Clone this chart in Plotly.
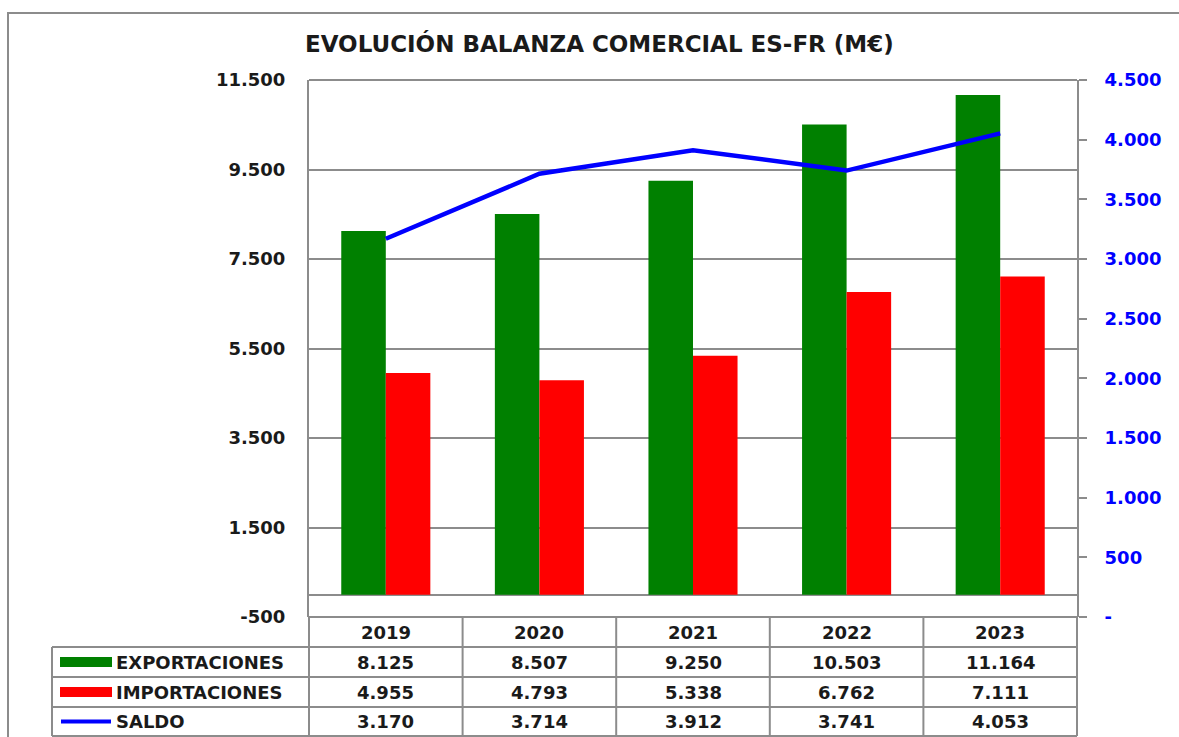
import plotly.graph_objects as go

years = ["2019", "2020", "2021", "2022", "2023"]
exportaciones = [8125, 8507, 9250, 10503, 11164]
importaciones = [4955, 4793, 5338, 6762, 7111]
saldo = [3170, 3714, 3912, 3741, 4053]
series_names = ["EXPORTACIONES", "IMPORTACIONES", "SALDO"]
left_ticks = [-500, 1500, 3500, 5500, 7500, 9500, 11500]
right_ticks = [0, 500, 1000, 1500, 2000, 2500, 3000, 3500, 4000, 4500]
title = "EVOLUCIÓN BALANZA COMERCIAL ES-FR (M€)"

W, H = 1179, 737
GREEN, RED, BLUE, GRAY = "#008000", "#FF0000", "#0000FF", "#8c8c8c"
FONT = "DejaVu Sans"
TXT = "#1a1a1a"
FS = 18


def fmt(v):
    return "-" if v == 0 else f"{v:,}".replace(",", ".")


def px(x):
    return x / W


def py(y):
    return 1 - y / H


X0, X1 = 309, 1077
Y_TOP, Y_BOT = 80, 617
ROWS = [617, 647, 677, 707, 736]
LEG_X = 52

xs = list(range(len(years)))

fig = go.Figure()
fig.add_trace(go.Bar(x=xs, y=exportaciones, name=series_names[0], marker_color=GREEN,
                     marker_line_width=0))
fig.add_trace(go.Bar(x=xs, y=importaciones, name=series_names[1], marker_color=RED,
                     marker_line_width=0))
fig.add_trace(go.Scatter(x=xs, y=saldo, name=series_names[2], mode="lines",
                         line=dict(color=BLUE, width=4.5), yaxis="y2"))

bold = dict(family=FONT, size=FS, color=TXT)

fig.update_layout(
    width=W, height=H, autosize=False,
    margin=dict(l=0, r=0, t=0, b=0, pad=0, autoexpand=False),
    paper_bgcolor="white", plot_bgcolor="white",
    showlegend=False,
    barmode="group", bargap=0.42, bargroupgap=0,
    xaxis=dict(domain=[px(X0), px(X1)], range=[-0.5, len(years) - 0.5],
               showticklabels=False, showgrid=False, zeroline=False, showline=False,
               fixedrange=True),
    yaxis=dict(domain=[py(Y_BOT), py(Y_TOP)], range=[-500, 11500],
               tickvals=left_ticks, ticktext=[fmt(v) for v in left_ticks],
               tickfont=dict(family=FONT, size=FS, color=TXT, weight="bold"),
               showgrid=True, gridcolor=GRAY, gridwidth=2,
               zeroline=True, zerolinecolor=GRAY, zerolinewidth=2,
               showline=True, linecolor=GRAY, linewidth=2,
               ticks="", ticklabelstandoff=18),
    yaxis2=dict(domain=[py(Y_BOT), py(Y_TOP)], overlaying="y", side="right",
                anchor="x", range=[0, 4500], tickvals=right_ticks,
                ticktext=[fmt(v) for v in right_ticks],
                tickfont=dict(family=FONT, size=FS, color=BLUE, weight="bold"),
                showgrid=False, zeroline=False,
                showline=True, linecolor=GRAY, linewidth=2,
                ticks="outside", ticklen=8, tickcolor=GRAY, tickwidth=2,
                ticklabelstandoff=14),
)

shapes = []
# outer chart border
shapes.append(dict(type="rect", xref="paper", yref="paper",
                   x0=px(8), x1=1.01, y0=-0.01, y1=py(13),
                   line=dict(color=GRAY, width=2), fillcolor="rgba(0,0,0,0)", layer="below"))
# top plot edge line
shapes.append(dict(type="line", xref="paper", yref="paper", x0=px(X0), x1=px(X1),
                   y0=py(Y_TOP), y1=py(Y_TOP), line=dict(color=GRAY, width=2)))
# table horizontal lines
for i, yy in enumerate(ROWS):
    xs0 = X0 if i == 0 else LEG_X
    shapes.append(dict(type="line", xref="paper", yref="paper", x0=px(xs0), x1=px(X1),
                       y0=py(yy), y1=py(yy), line=dict(color=GRAY, width=2)))
# table vertical lines
col_w = (X1 - X0) / len(years)
for j in range(len(years) + 1):
    xx = X0 + j * col_w
    shapes.append(dict(type="line", xref="paper", yref="paper", x0=px(xx), x1=px(xx),
                       y0=py(ROWS[0]), y1=py(ROWS[-1]), line=dict(color=GRAY, width=2)))
shapes.append(dict(type="line", xref="paper", yref="paper", x0=px(LEG_X), x1=px(LEG_X),
                   y0=py(ROWS[1]), y1=py(ROWS[-1]), line=dict(color=GRAY, width=2)))
# legend keys
for k, col in enumerate([GREEN, RED]):
    yc = (ROWS[k + 1] + ROWS[k + 2]) / 2
    shapes.append(dict(type="rect", xref="paper", yref="paper",
                       x0=px(60), x1=px(112), y0=py(yc + 5), y1=py(yc - 5),
                       fillcolor=col, line=dict(width=0)))
yc = (ROWS[3] + ROWS[4]) / 2
shapes.append(dict(type="line", xref="paper", yref="paper", x0=px(61), x1=px(111),
                   y0=py(yc), y1=py(yc), line=dict(color=BLUE, width=4)))

annotations = []
annotations.append(dict(text=f"<b>{title}</b>", xref="paper", yref="paper",
                        x=px(599), y=py(44), showarrow=False, xanchor="center",
                        yanchor="middle",
                        font=dict(family=FONT, size=23, color=TXT)))
for j, yr in enumerate(years):
    xc = X0 + (j + 0.5) * col_w
    annotations.append(dict(text=f"<b>{yr}</b>", xref="paper", yref="paper",
                            x=px(xc), y=py((ROWS[0] + ROWS[1]) / 2), showarrow=False,
                            xanchor="center", yanchor="middle", font=bold))
    for r, vals in enumerate([exportaciones, importaciones, saldo]):
        annotations.append(dict(text=f"<b>{fmt(vals[j])}</b>", xref="paper", yref="paper",
                                x=px(xc), y=py((ROWS[r + 1] + ROWS[r + 2]) / 2),
                                showarrow=False, xanchor="center", yanchor="middle",
                                font=bold))
for r, name in enumerate(series_names):
    annotations.append(dict(text=f"<b>{name}</b>", xref="paper", yref="paper",
                            x=px(114), y=py((ROWS[r + 1] + ROWS[r + 2]) / 2),
                            showarrow=False, xanchor="left", yanchor="middle", font=bold))

fig.update_layout(shapes=shapes, annotations=annotations)
fig.write_html("out.html", config={"displayModeBar": False},
               post_script="document.body.style.margin='0';document.body.style.overflow='hidden';")
